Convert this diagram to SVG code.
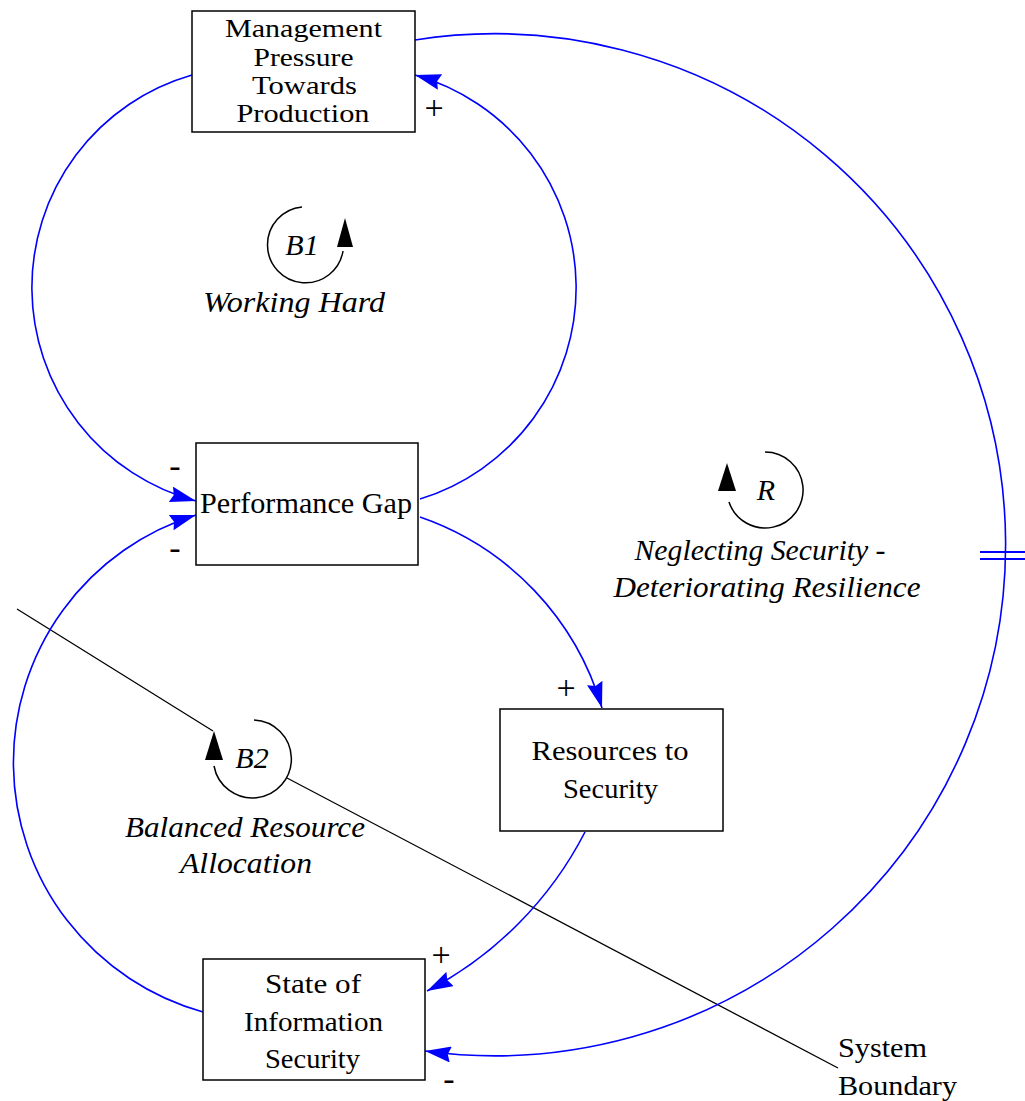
<svg xmlns="http://www.w3.org/2000/svg" width="1025" height="1101" viewBox="0 0 1025 1101">
  <style>
    .box { fill: #ffffff; stroke: #000000; stroke-width: 1.5; }
    .lbl { font-family: "Liberation Serif", "Times New Roman", serif; fill: #000000; text-anchor: middle; }
    .loopname { font-family: "Liberation Serif", "Times New Roman", serif; font-style: italic; font-size: 30px; fill: #000000; text-anchor: middle; }
    .sign { font-family: "Liberation Serif", "Times New Roman", serif; font-size: 34px; fill: #000000; text-anchor: middle; }
    .link { fill: none; stroke: #0000ff; stroke-width: 1.6; marker-end: url(#head); }
    .loop { fill: none; stroke: #000000; stroke-width: 1.5; }
  </style>
  <defs>
    <marker id="head" viewBox="0 0 26 16" refX="26" refY="8" markerWidth="26" markerHeight="16" markerUnits="userSpaceOnUse" orient="auto">
      <path d="M0,0 L26,8 L0,16 L3,8 z" fill="#0000ff"/>
    </marker>
  </defs>

  <rect width="1025" height="1101" fill="#ffffff"/>

  <!-- system boundary line -->
  <g id="boundary">
    <path d="M17,609 L213,731 M287,778 L838,1068" fill="none" stroke="#000000" stroke-width="1.3"/>
    <text class="lbl" x="838" y="1057" font-size="28" style="text-anchor:start" textLength="89" lengthAdjust="spacingAndGlyphs">System</text>
    <text class="lbl" x="838" y="1095" font-size="28" style="text-anchor:start" textLength="119" lengthAdjust="spacingAndGlyphs">Boundary</text>
  </g>

  <!-- causal links -->
  <g id="connectors">
    <path class="link" d="M192,75 A221,221 0 0 0 196,501"/>
    <path class="link" d="M420,499 A221,221 0 0 0 415,75"/>
    <path class="link" d="M415,40 A511,511 0 1 1 425,1051"/>
    <path class="link" d="M420,517 A287,287 0 0 1 602,708"/>
    <path class="link" d="M585,832 A370,370 0 0 1 427,991"/>
    <path class="link" d="M203,1012 A259,259 0 0 1 196,515"/>
    <!-- delay mark -->
    <path d="M980,552 H1025 M980,559 H1025" stroke="#0000ff" stroke-width="2" fill="none"/>
    <!-- polarities -->
    <text class="sign" x="434" y="119">+</text>
    <text class="sign" x="175" y="477">-</text>
    <text class="sign" x="175" y="559">-</text>
    <text class="sign" x="566" y="699">+</text>
    <text class="sign" x="441" y="966">+</text>
    <text class="sign" x="449" y="1090">-</text>
  </g>

  <g id="management-pressure">
    <rect class="box" x="192" y="11" width="223" height="121"/>
    <text class="lbl" font-size="26" x="303.5" y="37" textLength="157" lengthAdjust="spacingAndGlyphs">Management</text>
    <text class="lbl" font-size="26" x="303.5" y="65.5" textLength="100" lengthAdjust="spacingAndGlyphs">Pressure</text>
    <text class="lbl" font-size="26" x="304.5" y="93.5" textLength="105" lengthAdjust="spacingAndGlyphs">Towards</text>
    <text class="lbl" font-size="26" x="303" y="121.5" textLength="133" lengthAdjust="spacingAndGlyphs">Production</text>
  </g>

  <g id="performance-gap">
    <rect class="box" x="196" y="443" width="222" height="122"/>
    <text class="lbl" font-size="29" x="306" y="513" textLength="212" lengthAdjust="spacingAndGlyphs">Performance Gap</text>
  </g>

  <g id="resources-to-security">
    <rect class="box" x="500" y="709" width="223" height="122"/>
    <text class="lbl" font-size="28" x="610" y="760" textLength="157" lengthAdjust="spacingAndGlyphs">Resources to</text>
    <text class="lbl" font-size="28" x="610.5" y="798" textLength="95" lengthAdjust="spacingAndGlyphs">Security</text>
  </g>

  <g id="state-of-information-security">
    <rect class="box" x="203" y="959" width="222" height="121"/>
    <text class="lbl" font-size="28" x="313" y="993" textLength="96" lengthAdjust="spacingAndGlyphs">State of</text>
    <text class="lbl" font-size="28" x="313.5" y="1031" textLength="139" lengthAdjust="spacingAndGlyphs">Information</text>
    <text class="lbl" font-size="28" x="312.5" y="1068" textLength="95" lengthAdjust="spacingAndGlyphs">Security</text>
  </g>

  <!-- loop markers -->
  <g id="loop-b1">
    <path class="loop" d="M302,207 A38,38 0 1 0 343,251"/>
    <path d="M345,218 L353,247 L337,247 z" fill="#000000"/>
    <text class="loopname" x="302" y="255">B1</text>
    <text class="loopname" x="294" y="312" textLength="182" lengthAdjust="spacingAndGlyphs">Working Hard</text>
  </g>

  <g id="loop-r">
    <path class="loop" d="M765,452 A38,38 0 1 1 729,502"/>
    <path d="M727,463 L736,491 L718,491 z" fill="#000000"/>
    <text class="loopname" x="766" y="500">R</text>
    <text class="loopname" x="760" y="560" textLength="251" lengthAdjust="spacingAndGlyphs">Neglecting Security -</text>
    <text class="loopname" x="767" y="597" textLength="307" lengthAdjust="spacingAndGlyphs">Deteriorating Resilience</text>
  </g>

  <g id="loop-b2">
    <path class="loop" d="M254,720 A39,39 0 1 1 214,766"/>
    <path d="M214,731 L223,760 L205,760 z" fill="#000000"/>
    <text class="loopname" x="252" y="768">B2</text>
    <text class="loopname" x="245" y="837" textLength="240" lengthAdjust="spacingAndGlyphs">Balanced Resource</text>
    <text class="loopname" x="246" y="873" textLength="132" lengthAdjust="spacingAndGlyphs">Allocation</text>
  </g>
</svg>
